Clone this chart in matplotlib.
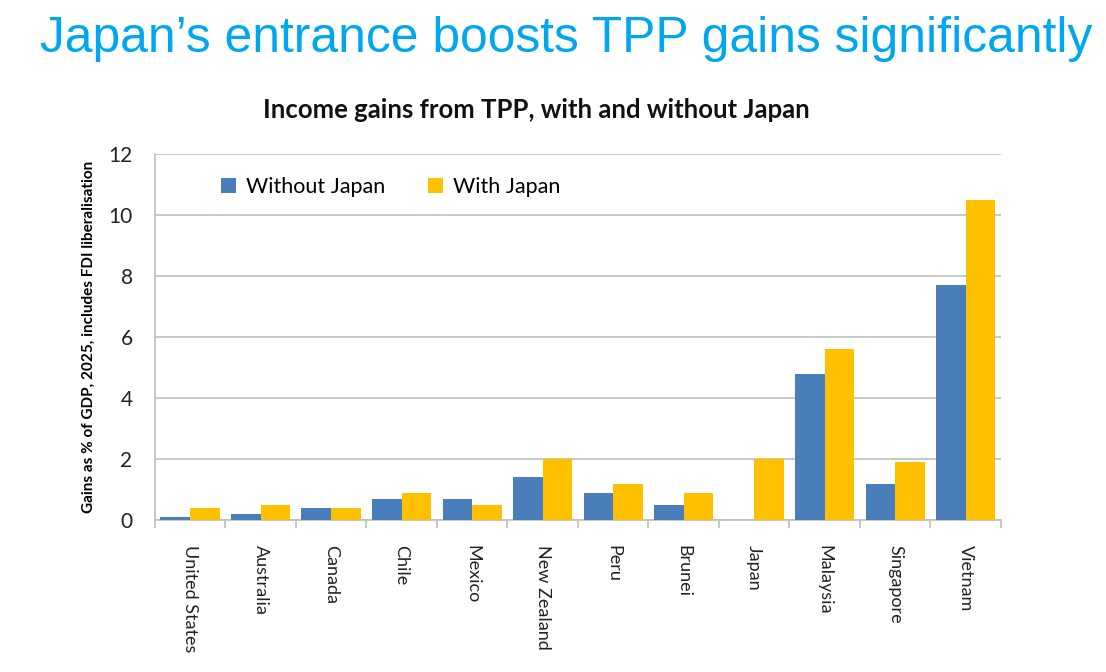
import numpy as np
import matplotlib.pyplot as plt

paises = ["United States", "Australia", "Canada", "Chile", "Mexico", "New Zealand",
          "Peru", "Brunei", "Japan", "Malaysia", "Singapore", "Vietnam"]
sin_japon = [0.1, 0.2, 0.4, 0.7, 0.7, 1.4, 0.9, 0.5, 0.0, 4.8, 1.2, 7.7]
con_japon = [0.4, 0.5, 0.4, 0.9, 0.5, 2.0, 1.2, 0.9, 2.0, 5.6, 1.9, 10.5]
y_ticks = [0, 2, 4, 6, 8, 10, 12]

azul = "#4A7EBB"
amarillo = "#FFC000"
gris = "#BFBFBF"

plt.rcParams["font.family"] = ["Lato", "DejaVu Sans"]

fig = plt.figure(figsize=(11.06, 6.72), dpi=100)
ax = fig.add_axes([0.140, 0.226, 0.765, 0.545])

x = np.arange(len(paises))
ancho = 0.42
ax.bar(x - ancho / 2, sin_japon, ancho, color=azul, label="Without Japan", zorder=3)
ax.bar(x + ancho / 2, con_japon, ancho, color=amarillo, label="With Japan", zorder=3)

ax.set_xlim(-0.5, len(paises) - 0.5)
ax.set_ylim(0, 12)
ax.set_yticks(y_ticks)
ax.set_yticklabels([str(t) for t in y_ticks], fontsize=15, color="#222222")
ax.yaxis.grid(True, color=gris, linewidth=1.2, zorder=0)
ax.tick_params(axis="y", length=0, pad=16)

# ticks entre categorias, etiquetas en el centro
ax.set_xticks(np.arange(-0.5, len(paises), 1.0))
ax.set_xticklabels([])
ax.set_xticks(x, minor=True)
ax.set_xticklabels(paises, minor=True, rotation=270, fontsize=13, color="#222222",
                   va="top", ha="center")
ax.tick_params(axis="x", which="major", length=6, color=gris, width=1.2)
ax.tick_params(axis="x", which="minor", length=0, pad=18)

for lado in ["top", "right"]:
    ax.spines[lado].set_visible(False)
for lado in ["left", "bottom"]:
    ax.spines[lado].set_color(gris)
    ax.spines[lado].set_linewidth(1.2)

ax.set_ylabel("Gains as % of GDP, 2025, includes FDI liberalisation", fontsize=11,
              fontweight="bold", labelpad=9)

ax.legend(loc="upper left", bbox_to_anchor=(0.055, 0.99), ncol=2, frameon=False,
          fontsize=15.5, handlelength=0.7, handleheight=0.7, handletextpad=0.45,
          columnspacing=2.0)

fig.text(0.485, 0.836, "Income gains from TPP, with and without Japan", fontsize=18.5,
         fontweight="bold", ha="center", va="center", color="#111111")
fig.text(0.036, 0.942, "Japan\u2019s entrance boosts TPP gains significantly",
         fontsize=35.8, color="#00A6EE", ha="left", va="center",
         family=["Liberation Sans", "DejaVu Sans"])

fig.savefig("out.png", dpi=100)
